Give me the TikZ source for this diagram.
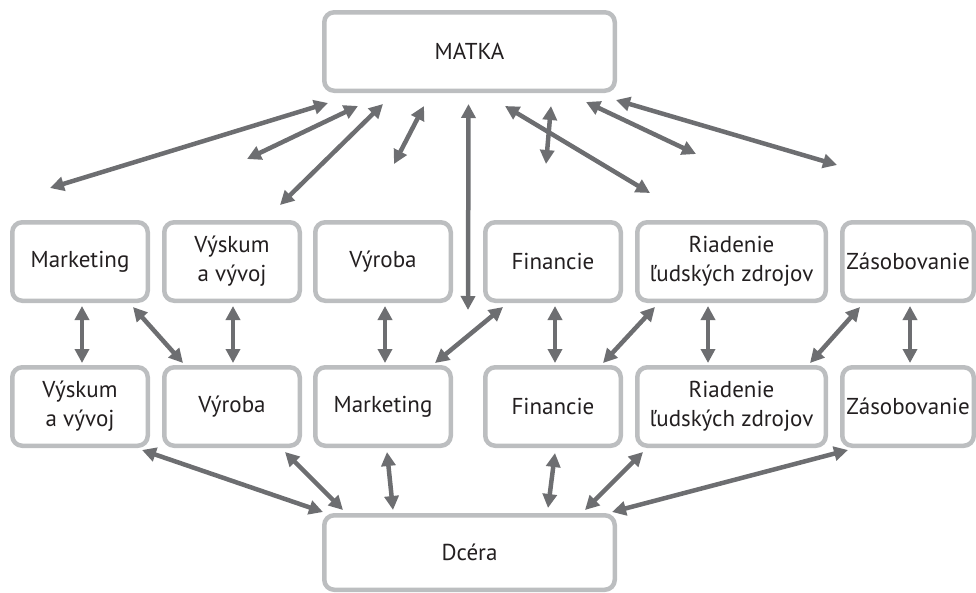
\documentclass[tikz,border=0pt]{standalone}
\usepackage{fontspec}
\setmainfont{PT Sans}
\usetikzlibrary{arrows.meta}
\definecolor{arrgray}{HTML}{6D6E71}
\definecolor{boxgray}{HTML}{BCBEC0}
\definecolor{txt}{HTML}{231F20}
\tikzset{
  orgbox/.style={draw=boxgray, line width=4.5pt, rounded corners=10pt, fill=white,
    inner sep=0pt, align=center, text=txt,
    font=\fontsize{23}{29}\selectfont, minimum height=78.5pt},
  dblarrow/.style={draw=arrgray, line width=4.5pt,
    {Triangle[length=14pt,width=14pt]}-{Triangle[length=14pt,width=14pt]}},
}
\begin{document}
\begin{tikzpicture}[x=1pt,y=-1pt]
\useasboundingbox (0,0) rectangle (976,592);
% top and bottom
\node[orgbox, minimum width=290.5pt] (T) at (469.5,51.5) {MATKA};
\node[orgbox, minimum width=290.5pt, minimum height=74.5pt] (D) at (469.5,552.5) {Dcéra};
% row 1
\node[orgbox, minimum width=135.5pt] (a1) at (80,261.5) {Marketing};
\node[orgbox, minimum width=135.5pt] (a2) at (232,261.5) {Výskum\\a vývoj};
\node[orgbox, minimum width=135.5pt] (a3) at (383,261.5) {Výroba};
\node[orgbox, minimum width=135.5pt] (a4) at (553,261.5) {Financie};
\node[orgbox, minimum width=188.5pt] (a5) at (731.5,261.5) {Riadenie\\ľudských zdrojov};
\node[orgbox, minimum width=131.5pt] (a6) at (908,261.5) {Zásobovanie};
% row 2
\node[orgbox, minimum width=135.5pt] (b1) at (80,406.5) {Výskum\\a vývoj};
\node[orgbox, minimum width=135.5pt] (b2) at (232,406.5) {Výroba};
\node[orgbox, minimum width=135.5pt] (b3) at (383,406.5) {Marketing};
\node[orgbox, minimum width=135.5pt] (b4) at (553,406.5) {Financie};
\node[orgbox, minimum width=188.5pt] (b5) at (731.5,406.5) {Riadenie\\ľudských zdrojov};
\node[orgbox, minimum width=131.5pt] (b6) at (908,406.5) {Zásobovanie};
% free ends
\coordinate (f1) at (50,188);
\coordinate (f2) at (247,159);
\coordinate (f4) at (394,164);
\coordinate (f5) at (468,310);
\coordinate (f6) at (650,193);
\coordinate (f7) at (546,164);
\coordinate (f8) at (696,154);
\coordinate (f9) at (837,165);
% arrows from MATKA
\draw[dblarrow] (f1) -- ([shift={(6,10)}]T.south west);
\draw[dblarrow] (f2) -- ([shift={(36,13)}]T.south west);
\draw[dblarrow] ([shift={(-22,-15)}]a2.north east) -- ([shift={(61,11)}]T.south west);
\draw[dblarrow] (f4) -- ([shift={(102,13)}]T.south west);
\draw[dblarrow] (f5) -- ([shift={(-1,11)}]T.south);
\draw[dblarrow] ([shift={(-112,13)}]T.south east) -- (f6);
\draw[dblarrow] ([shift={(-66,13)}]T.south east) -- (f7);
\draw[dblarrow] ([shift={(-31,9)}]T.south east) -- (f8);
\draw[dblarrow] ([shift={(-1,7)}]T.south east) -- (f9);
% between rows
\draw[dblarrow] ([shift={(2,3)}]a1.south) -- ([shift={(2,-2)}]b1.north);
\draw[dblarrow] ([shift={(-17,4)}]a1.south east) -- ([shift={(21,-2)}]b2.north west);
\draw[dblarrow] ([shift={(1,3)}]a2.south) -- ([shift={(1,-2)}]b2.north);
\draw[dblarrow] ([shift={(2,3)}]a3.south) -- ([shift={(2,-2)}]b3.north);
\draw[dblarrow] ([shift={(20,4)}]a4.south west) -- ([shift={(-18,-2)}]b3.north east);
\draw[dblarrow] ([shift={(2,3)}]a4.south) -- ([shift={(2,-2)}]b4.north);
\draw[dblarrow] ([shift={(20,4)}]a5.south west) -- ([shift={(-20,-2)}]b4.north east);
\draw[dblarrow] ([shift={(-23.5,3)}]a5.south) -- ([shift={(-23.5,-2)}]b5.north);
\draw[dblarrow] ([shift={(20,4)}]a6.south west) -- ([shift={(-18,-2)}]b5.north east);
\draw[dblarrow] ([shift={(2,3)}]a6.south) -- ([shift={(2,-2)}]b6.north);
% to Dcéra
\draw[dblarrow] ([shift={(-8,2)}]b1.south east) -- ([shift={(1,-1)}]D.north west);
\draw[dblarrow] ([shift={(-17,4)}]b2.south east) -- ([shift={(21,-3)}]D.north west);
\draw[dblarrow] ([shift={(4,4)}]b3.south) -- ([shift={(71,-3)}]D.north west);
\draw[dblarrow] ([shift={(2,5)}]b4.south) -- ([shift={(-69,-5)}]D.north east);
\draw[dblarrow] ([shift={(8,4)}]b5.south west) -- ([shift={(-32,-3)}]D.north east);
\draw[dblarrow] ([shift={(8,2)}]b6.south west) -- ([shift={(-5,-1)}]D.north east);
\end{tikzpicture}
\end{document}
